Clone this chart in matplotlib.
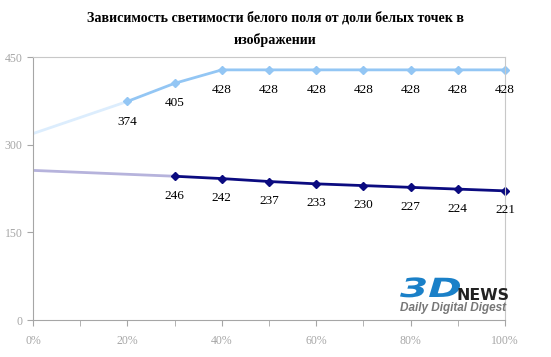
import matplotlib
matplotlib.use("Agg")
import matplotlib.pyplot as plt
from matplotlib.ticker import FuncFormatter
from matplotlib.textpath import TextPath
from matplotlib.patches import PathPatch
from matplotlib.font_manager import FontProperties
from matplotlib.transforms import Affine2D, IdentityTransform

# data
share_white   = [0.2, 0.3, 0.4, 0.5, 0.6, 0.7, 0.8, 0.9, 1.0]
white_field   = [374, 405, 428, 428, 428, 428, 428, 428, 428]
share_dark    = [0.3, 0.4, 0.5, 0.6, 0.7, 0.8, 0.9, 1.0]
dark_field    = [246, 242, 237, 233, 230, 227, 224, 221]
trend_white_x = [0.0, 0.2]
trend_white_y = [319, 374]
trend_dark_x  = [0.0, 0.3]
trend_dark_y  = [256, 246]
title = "Зависимость светимости белого поля от доли белых точек в\nизображении"

light_col = "#93c6f4"
dark_col  = "#0b0b80"
grey      = "#a6a6a6"

fig = plt.figure(figsize=(5.51, 3.57), dpi=100)
ax = fig.add_axes([0.0599, 0.1036, 0.8566, 0.7367])

ax.plot(trend_white_x, trend_white_y, color="#dcedfd", lw=2, solid_capstyle="butt")
ax.plot(trend_dark_x, trend_dark_y, color="#b6b3dc", lw=2, solid_capstyle="butt")
ax.plot(share_white, white_field, color=light_col, lw=2, marker="D", ms=4.5, clip_on=False)
ax.plot(share_dark, dark_field, color=dark_col, lw=2, marker="D", ms=4.5, clip_on=False)

for x, y in zip(share_white, white_field):
    ax.annotate(str(y), (x, y), xytext=(0, -14.5), textcoords="offset points",
                ha="center", va="center", fontsize=9.5, family="Liberation Serif")
for x, y in zip(share_dark, dark_field):
    ax.annotate(str(y), (x, y), xytext=(0, -14), textcoords="offset points",
                ha="center", va="center", fontsize=9.5, family="Liberation Serif")

ax.set_xlim(0, 1)
ax.set_ylim(0, 450)
ax.set_yticks([0, 150, 300, 450])
ax.set_xticks([0, 0.2, 0.4, 0.6, 0.8, 1.0])
ax.set_xticks([0.1, 0.3, 0.5, 0.7, 0.9], minor=True)
ax.xaxis.set_major_formatter(FuncFormatter(lambda v, p: f"{v:.0%}"))
for s in ax.spines.values():
    s.set_color("#c8c8c8")
ax.spines["left"].set_color(grey)
ax.spines["bottom"].set_color(grey)
ax.tick_params(axis="both", which="both", colors=grey, labelcolor=grey,
               labelsize=8.5, length=4)
ax.tick_params(axis="x", pad=6.5)
for lbl in ax.get_xticklabels() + ax.get_yticklabels():
    lbl.set_family("Liberation Serif")

fig.text(0.5, 0.918, title, ha="center", va="center", fontsize=10.1,
         fontweight="bold", family="Liberation Serif", linespacing=1.75)

# logo
fp = FontProperties(family="DejaVu Sans", weight="bold", style="oblique")
tp = TextPath((0, 0), "3D", size=1, prop=fp)
ext = tp.get_extents()
sx = 60 / ext.width
sy = 20 / ext.height
tr = Affine2D().translate(-ext.x0, 0).scale(sx, sy).translate(400, 357 - 297)
fig.patches.append(PathPatch(tp, transform=tr + IdentityTransform(),
                             facecolor="#1a80c8", edgecolor="none"))
fig.text(456 / 551, 1 - 300 / 357, "NEWS", color="#222222", fontsize=11.3,
         fontweight="bold", family="DejaVu Sans", ha="left", va="baseline")
fig.text(400 / 551, 1 - 311 / 357, "Daily Digital Digest", color="#777777",
         fontsize=8.5, fontweight="bold", style="italic", family="Liberation Sans",
         ha="left", va="baseline")

fig.savefig("out.png", dpi=100)
